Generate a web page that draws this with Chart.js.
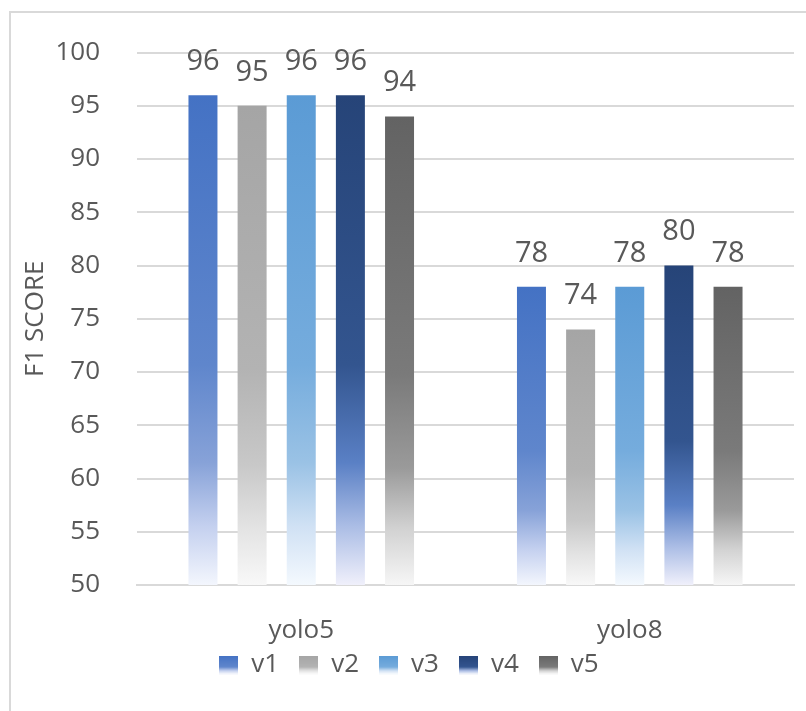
<!DOCTYPE html>
<html>
<head>
<meta charset="utf-8">
<script src="https://cdn.jsdelivr.net/npm/chart.js@4.4.1/dist/chart.umd.min.js"></script>
<style>
    html, body { margin: 0; padding: 0; background: #fff; }
    #wrap { position: relative; width: 806px; height: 711px; overflow: hidden; }
    #frame {
        position: absolute; left: 9px; top: 11px; width: 900px; height: 800px;
        border-left: 2px solid #d9d9d9; border-top: 2px solid #d9d9d9;
    }
    canvas { position: absolute; left: 0; top: 0; }
</style>
</head>
<body>
<div id="wrap">
    <div id="frame"></div>
    <canvas id="f1Chart" width="806" height="711"></canvas>
</div>
<script>
// Chart data
const models = ['yolo5', 'yolo8'];
const versions = ['v1', 'v2', 'v3', 'v4', 'v5'];
const v1 = [96, 78];
const v2 = [95, 74];
const v3 = [96, 78];
const v4 = [96, 80];
const v5 = [94, 78];
const yTicks = [50, 55, 60, 65, 70, 75, 80, 85, 90, 95, 100];

// Gradient stops (top of bar -> base), one set per version
const gradStops = [0, 0.55, 0.75, 0.88, 1];
const gradColors = [
    ['#4472c4', '#5f86cc', '#87a2d8', '#c4d0ef', '#f3f6fd'],
    ['#a5a5a5', '#b3b3b3', '#c8c8c8', '#e3e3e3', '#f8f8f8'],
    ['#5b9bd5', '#75acdd', '#9ac2e5', '#d0e1f4', '#f4f9fe'],
    ['#264478', '#33558f', '#5a80c5', '#abbde5', '#f0f0fb'],
    ['#636363', '#7a7a7a', '#9a9a9a', '#d2d2d2', '#f6f6f6']
];
const textColor = '#595959';
const fontFamily = "'Open Sans', 'Noto Sans', sans-serif";

function barGradient(index) {
    return function(context) {
        const chart = context.chart;
        if (!chart.chartArea || context.type !== 'data') {
            return gradColors[index][0];
        }
        const yScale = chart.scales.y;
        const top = yScale.getPixelForValue(context.raw);
        const bottom = yScale.getPixelForValue(yScale.min);
        const g = chart.ctx.createLinearGradient(0, top, 0, bottom);
        gradStops.forEach((s, i) => g.addColorStop(s, gradColors[index][i]));
        return g;
    };
}

// little gradient squares for the legend
function legendSwatch(index) {
    const c = document.createElement('canvas');
    c.width = 19;
    c.height = 19;
    const cx = c.getContext('2d');
    const g = cx.createLinearGradient(0, 0, 0, 19);
    g.addColorStop(0, gradColors[index][0]);
    g.addColorStop(0.6, gradColors[index][1]);
    g.addColorStop(0.8, gradColors[index][3]);
    g.addColorStop(1, '#ffffff');
    cx.fillStyle = g;
    cx.fillRect(0, 0, 19, 19);
    return c;
}

const seriesValues = [v1, v2, v3, v4, v5];

// value labels above each bar
const barLabels = {
    id: 'barLabels',
    afterDatasetsDraw(chart) {
        const ctx = chart.ctx;
        ctx.save();
        ctx.fillStyle = textColor;
        ctx.font = '29px ' + fontFamily;
        ctx.textAlign = 'center';
        ctx.textBaseline = 'bottom';
        chart.data.datasets.forEach((ds, i) => {
            chart.getDatasetMeta(i).data.forEach((bar, j) => {
                ctx.fillText(String(ds.data[j]), bar.x, bar.y - 19);
            });
        });
        ctx.restore();
    }
};

// pull the legend up a little, closer to the category labels
const legendNudge = {
    id: 'legendNudge',
    afterLayout(chart) {
        chart.legend.top -= 14;
        chart.legend.bottom -= 14;
        chart.legend.left += 12;
        chart.legend.right += 12;
    }
};

const chart = new Chart(document.getElementById('f1Chart'), {
    type: 'bar',
    data: {
        labels: models,
        datasets: versions.map((name, i) => ({
            label: name,
            data: seriesValues[i],
            backgroundColor: barGradient(i),
            pointStyle: legendSwatch(i),
            borderWidth: 0,
            categoryPercentage: 0.748,
            barPercentage: 0.59
        }))
    },
    options: {
        responsive: false,
        animation: false,
        layout: {
            padding: { top: 48, right: 12, bottom: 9, left: 0 }
        },
        scales: {
            y: {
                min: 50,
                max: 100,
                afterBuildTicks(scale) {
                    scale.ticks = yTicks.map(v => ({ value: v }));
                },
                afterFit(scale) {
                    scale.width = 137;
                },
                grid: { color: '#d9d9d9', lineWidth: 2, drawTicks: false },
                border: { display: false },
                ticks: {
                    color: textColor,
                    font: { family: fontFamily, size: 26 },
                    padding: 37
                },
                title: {
                    display: true,
                    text: 'F1 SCORE',
                    color: textColor,
                    font: { family: fontFamily, size: 26 },
                    padding: { top: 20, bottom: 0 }
                }
            },
            x: {
                afterFit(scale) {
                    scale.height = 61;
                },
                grid: { display: false, drawTicks: false },
                border: { display: true, color: '#d9d9d9', width: 2 },
                ticks: {
                    color: textColor,
                    font: { family: fontFamily, size: 26 },
                    padding: 30
                }
            }
        },
        plugins: {
            legend: {
                position: 'bottom',
                labels: {
                    usePointStyle: true,
                    boxWidth: 19,
                    boxHeight: 19,
                    padding: 20,
                    color: textColor,
                    font: { family: fontFamily, size: 26 }
                }
            },
            tooltip: { enabled: false }
        }
    },
    plugins: [barLabels, legendNudge]
});
</script>
</body>
</html>
